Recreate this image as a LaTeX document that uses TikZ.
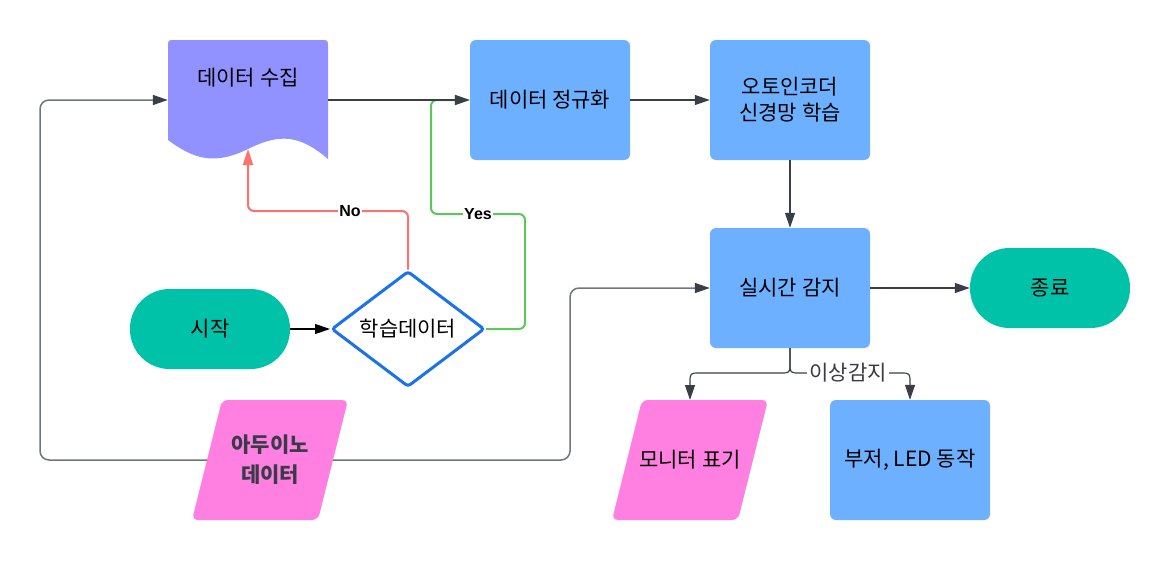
\documentclass[tikz,border=0pt]{standalone}
\usepackage{fontspec}
\setmainfont{Noto Sans CJK KR}
\newfontfamily\lblfont{Liberation Sans}
\usetikzlibrary{arrows.meta,shapes.geometric}
\definecolor{boxblue}{HTML}{6CB0FF}
\definecolor{docc}{HTML}{9191FF}
\definecolor{termc}{HTML}{00C2A8}
\definecolor{pinkc}{HTML}{FF80E0}
\definecolor{decblue}{HTML}{1A73E8}
\definecolor{darkline}{HTML}{3A3F47}
\definecolor{grayline}{HTML}{70757D}
\definecolor{redline}{HTML}{FF7070}
\definecolor{greenline}{HTML}{5CC85A}
\definecolor{ardtext}{HTML}{3A3A48}
\begin{document}
\begin{tikzpicture}[x=1pt,y=-1pt,
  txt/.style={font=\fontsize{21}{26}\selectfont, text=black, align=center, inner sep=0pt},
  proc/.style={txt, rectangle, rounded corners=6pt, fill=boxblue, minimum width=160pt, minimum height=120pt},
  term/.style={txt, rectangle, rounded corners=39.5pt, fill=termc, minimum width=160pt, minimum height=80pt},
  dec/.style={txt, diamond, draw=decblue, line width=3pt, fill=white, minimum width=153pt, minimum height=114pt, rounded corners=3pt},
  tip/.style={-{Triangle[length=15pt,width=10pt,color=darkline]}},
  conn/.style={draw=darkline, line width=1.2pt, tip, rounded corners=9pt},
  loopc/.style={conn, draw=grayline, line width=1.5pt},
  redc/.style={draw=redline, line width=2pt, rounded corners=6pt, -{Triangle[length=16pt,width=10pt,color=redline]}},
  greenc/.style={draw=greenline, line width=2pt, rounded corners=6pt, -{Triangle[length=15pt,width=10pt,color=greenline]}},
  lab/.style={font=\lblfont\bfseries\fontsize{16}{16}\selectfont, fill=white, inner sep=1.5pt, text=black},
  cond/.style={font=\fontsize{21}{21}\selectfont, fill=white, inner sep=2pt, text=ardtext}
]
\useasboundingbox (0,0) rectangle (1170,560);

% document shape (data collection)
\fill[docc] (168,140) -- (168,47) .. controls (168,40) .. (175,40) -- (321,40)
  .. controls (328,40) .. (328,47) -- (328,159)
  .. controls (300,135) and (280,133) .. (248,149)
  .. controls (215,165) and (195,160) .. (168,140) -- cycle;
\node[inner sep=0pt, minimum width=160pt, minimum height=120pt] (col) at (248,100) {};
\node[txt] (coltxt) at (248,78) {데이터 수집};
\coordinate (colbot) at (248,149);

% parallelograms
\fill[pinkc, rounded corners=6pt] (222,400) -- (348,400) -- (318,520) -- (192,520) -- cycle;
\node[txt, font=\fontsize{21}{30}\selectfont\bfseries, text=ardtext] (ard) at (270,460) {아두이노\\데이터};
\coordinate (ardL) at (207,460);
\coordinate (ardR) at (333,460);

\fill[pinkc, rounded corners=6pt] (642,400) -- (768,400) -- (738,520) -- (612,520) -- cycle;
\node[txt] (mon) at (690,460) {모니터 표기};
\coordinate (monTop) at (690,400);

% process boxes
\node[proc] (norm) at (550,100) {데이터 정규화};
\node[proc] (ae) at (790,100) {오토인코더\\신경망 학습};
\node[proc] (rt) at (790,288) {실시간 감지};
\node[proc] (buz) at (910,460) {부저, LED 동작};

% terminals
\node[term] (start) at (210,329) {시작};
\node[term] (end) at (1050,288) {종료};

% decision
\node[dec] (dec) at (408,329) {학습데이터};

% connectors
\draw[line width=1.2pt, black, -{Triangle[length=15pt,width=10pt,color=black]}] (start.east) -- (dec.west);

\draw[redc] (dec.north) -- (408,211) -- (248,211) -- (colbot);
\node[lab] (nolab) at (350,211) {No};

\draw[greenc] (dec.east) -- (525,329) -- (525,214) -- (431,214) -- (431,100) -- (norm.west);
\node[lab] (yeslab) at (478,214) {Yes};

\draw[conn] (col.east) -- (norm.west);
\draw[conn] (norm.east) -- (ae.west);
\draw[conn] (ae.south) -- (rt.north);
\draw[conn] (rt.east) -- (end.west);

\draw[loopc] (ardL) -- (40,460) -- (40,100) -- (col.west);
\draw[loopc] (ardR) -- (570,460) -- (570,288) -- (rt.west);

\draw[draw=darkline, line width=1.2pt, tip] (rt.south) -- (790,363) .. controls (790,373) .. (780,373)
  -- (700,373) .. controls (690,373) .. (690,383) -- (monTop);
\draw[draw=darkline, line width=1.2pt, tip] (rt.south) -- (790,363) .. controls (790,373) .. (800,373)
  -- (900,373) .. controls (910,373) .. (910,383) -- (buz.north);
\node[cond] (condlab) at (848,373) {이상감지};
\end{tikzpicture}
\end{document}
